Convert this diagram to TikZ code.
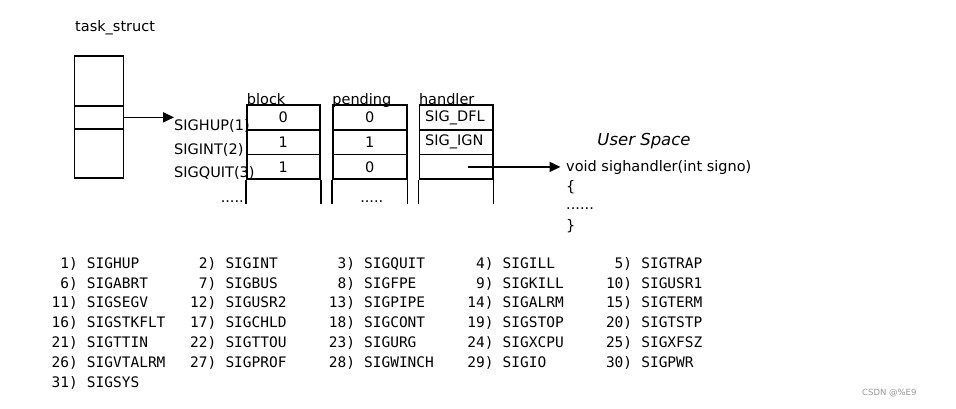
\documentclass[tikz,border=0pt]{standalone}
\usepackage{fontspec}
\setmainfont{DejaVu Sans}
\setmonofont{DejaVu Sans Mono}
\usetikzlibrary{arrows.meta,calc}
\newcommand{\fsz}{\fontsize{14.5}{16}\selectfont}
\newcommand{\msz}{\fontsize{14.5}{16}\selectfont\ttfamily}
\begin{document}
\begin{tikzpicture}[x=1pt,y=-1pt,
  thick line/.style={line width=1.6pt},
  tsbox/.style={draw, thick line, inner sep=0, minimum width=49pt},
  cell/.style={draw, thick line, inner sep=0, minimum height=24.7pt, font=\fsz},
  lbl/.style={inner sep=0, font=\fsz},
  mono/.style={inner sep=0, font=\msz},
  arr/.style={thick line, -{Triangle[length=11pt,width=10pt]}}]
\useasboundingbox (0,0) rectangle (956,408);

% task_struct
\node[lbl, anchor=base west] (tstitle) at (75,31) {task\_struct};
\node[tsbox, minimum height=49.7pt] (tsA) at (98.8,80.85) {};
\node[tsbox, minimum height=23.3pt] (tsB) at (98.8,117.35) {};
\node[tsbox, minimum height=49pt] (tsC) at (98.8,153.5) {};

% signal labels
\node[lbl, anchor=base west] (hup) at (174,130.5) {SIGHUP(1)};
\node[lbl, anchor=base west] (int) at (174,154) {SIGINT(2)};
\node[lbl, anchor=base west] (quit) at (174,177.5) {SIGQUIT(3)};
\node[lbl, anchor=base east] (dotsA) at (244,202) {.....};

\draw[arr] (tsB.east) -- (tsB.east -| hup.west);

% columns
\node[lbl, anchor=base west] (lblock) at (246.7,104.5) {block};
\node[lbl, anchor=base west] (lpend) at (332.2,104.5) {pending};
\node[lbl, anchor=base west] (lhand) at (418.8,104.5) {handler};

\foreach \c/\x/\w/\va/\vb/\vc in {b/283.35/73.3/0/1/1, p/369.7/74/0/1/0, h/456/73.4/{}/{}/{}}{
  \node[cell, minimum width=\w pt] (\c1) at (\x,117.5) {\va};
  \node[cell, minimum width=\w pt] (\c2) at (\x,142.2) {\vb};
  \node[cell, minimum width=\w pt] (\c3) at (\x,166.9) {\vc};
  \draw[thick line] (\c3.south west) -- ++(0,24);
  \draw[thick line] (\c3.south east) -- ++(0,24);
}
\node[lbl, anchor=west] (dfl) at ($(h1.west)+(6.5,0)$) {SIG\_DFL};
\node[lbl, anchor=west] (ign) at ($(h2.west)+(6.5,0)$) {SIG\_IGN};
\node[lbl, anchor=base east] (dotsB) at (383.5,202) {.....};

% user space
\node[inner sep=0, font=\fontsize{16.5}{18}\selectfont\itshape] (us) at (644,140.7) {User Space};
\node[lbl, anchor=base west] (sig) at (566,171.3) {void sighandler(int signo)};
\node[lbl, anchor=base west] (ob) at (566,191) {\{};
\node[lbl, anchor=base west] (ud) at (566,209.5) {......};
\node[lbl, anchor=base west] (cb) at (566,230) {\}};
\coordinate (hs) at (468,166.9);
\draw[arr, shorten >=5.5pt] (hs) -- (hs -| sig.west);

% signal list
\foreach \i/\nm in {1/SIGHUP,2/SIGINT,3/SIGQUIT,4/SIGILL,5/SIGTRAP,
  6/SIGABRT,7/SIGBUS,8/SIGFPE,9/SIGKILL,10/SIGUSR1,
  11/SIGSEGV,12/SIGUSR2,13/SIGPIPE,14/SIGALRM,15/SIGTERM,
  16/SIGSTKFLT,17/SIGCHLD,18/SIGCONT,19/SIGSTOP,20/SIGTSTP,
  21/SIGTTIN,22/SIGTTOU,23/SIGURG,24/SIGXCPU,25/SIGXFSZ,
  26/SIGVTALRM,27/SIGPROF,28/SIGWINCH,29/SIGIO,30/SIGPWR,
  31/SIGSYS}{
  \pgfmathtruncatemacro{\col}{mod(\i-1,5)}
  \pgfmathtruncatemacro{\row}{(\i-1)/5}
  \pgfmathsetmacro{\nx}{86.7+\col*138.6}
  \pgfmathsetmacro{\ny}{268.3+\row*19.8}
  \node[mono, anchor=base east] (num\i) at (\nx-8.7,\ny) {\i)};
  \node[mono, anchor=base west] (nm\i) at (\nx,\ny) {\nm};
}

% watermark
\node[inner sep=0, font=\fontsize{8.5}{10}\selectfont, text=black!40, anchor=west] (wm) at (862,393) {CSDN @\%E9};
\end{tikzpicture}
\end{document}
